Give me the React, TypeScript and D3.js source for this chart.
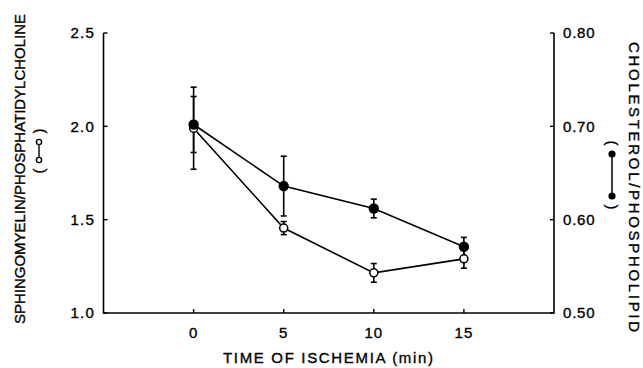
import React from "react";
import * as d3 from "d3";

const times = [0, 5, 10, 15];
const smpc = [1.99, 1.455, 1.215, 1.29];
const smpcErr = [0.22, 0.035, 0.05, 0.05];
const cholPl = [0.702, 0.636, 0.612, 0.571];
const cholPlErr = [0.03, 0.032, 0.01, 0.01];
const xTicks = [0, 5, 10, 15];
const leftTicks = [1.0, 1.5, 2.0, 2.5];
const rightTicks = [0.5, 0.6, 0.7, 0.8];

const W = 643, H = 368;
const L = 103.5, R = 554, T = 33, B = 313;
const font = "'Liberation Sans', Arial, Helvetica, sans-serif";
const txtStroke = { stroke: "#000", strokeWidth: 0.35 };

export default function App() {
  const x = d3.scaleLinear().domain([-5, 20]).range([L, R]);
  const yL = d3.scaleLinear().domain([1.0, 2.5]).range([B, T]);
  const yR = d3.scaleLinear().domain([0.5, 0.8]).range([B, T]);
  const line = d3.line<number>();
  const openPts: [number, number][] = times.map((t, i) => [x(t), yL(smpc[i])]);
  const fillPts: [number, number][] = times.map((t, i) => [x(t), yR(cholPl[i])]);
  const cap = 3;
  const tick = 4;

  return (
    <svg width={W} height={H} style={{ position: "absolute", left: 0, top: 0, background: "#fff" }}
      fontFamily={font}>
      {/* axes */}
      <path d={`M${L},${T}V${B}H${R}V${T}`} fill="none" stroke="#000" strokeWidth={1.6} />
      {leftTicks.map((v) => (
        <g key={"l" + v}>
          <line x1={L} x2={L + tick} y1={yL(v)} y2={yL(v)} stroke="#000" strokeWidth={1.4} />
          <text x={95} y={yL(v)} dy="0.36em" textAnchor="end" fontSize={15} letterSpacing={1.2} {...txtStroke}>
            {v.toFixed(1)}
          </text>
        </g>
      ))}
      {rightTicks.map((v) => (
        <g key={"r" + v}>
          <line x1={R - tick} x2={R} y1={yR(v)} y2={yR(v)} stroke="#000" strokeWidth={1.4} />
          <text x={563} y={yR(v)} dy="0.36em" textAnchor="start" fontSize={15} letterSpacing={0.8} {...txtStroke}>
            {v.toFixed(2)}
          </text>
        </g>
      ))}
      {xTicks.map((v) => (
        <g key={"x" + v}>
          <line x1={x(v)} x2={x(v)} y1={B} y2={B - tick} stroke="#000" strokeWidth={1.4} />
          <text x={x(v)} y={338} textAnchor="middle" fontSize={15} letterSpacing={1} {...txtStroke}>
            {v}
          </text>
        </g>
      ))}
      <text x={328} y={363} textAnchor="middle" fontSize={15} textLength={210} lengthAdjust="spacing" {...txtStroke}>
        TIME OF ISCHEMIA (min)
      </text>

      {/* left title */}
      <g transform="translate(25,169) rotate(-90)">
        <text x={0} y={0} textAnchor="middle" fontSize={15} textLength={310} lengthAdjust="spacing" {...txtStroke}>
          SPHINGOMYELIN/PHOSPHATIDYLCHOLINE
        </text>
      </g>
      <g transform="translate(39,151) rotate(-90)">
        <text x={-20} y={0} dy="0.33em" textAnchor="middle" fontSize={15} {...txtStroke}>(</text>
        <circle cx={-9} cy={0} r={2.6} fill="#fff" stroke="#000" strokeWidth={1.4} />
        <line x1={-6.4} x2={6.4} y1={0} y2={0} stroke="#000" strokeWidth={1.4} />
        <circle cx={9} cy={0} r={2.6} fill="#fff" stroke="#000" strokeWidth={1.4} />
        <text x={20} y={0} dy="0.33em" textAnchor="middle" fontSize={15} {...txtStroke}>)</text>
      </g>

      {/* right title */}
      <g transform="translate(629,187) rotate(90)">
        <text x={0} y={0} textAnchor="middle" fontSize={15} textLength={290} lengthAdjust="spacing" {...txtStroke}>
          CHOLESTEROL/PHOSPHOLIPID
        </text>
      </g>
      <g transform="translate(612,175) rotate(90)">
        <text x={-32} y={0} dy="0.33em" textAnchor="middle" fontSize={15} {...txtStroke}>(</text>
        <circle cx={-21} cy={0} r={3.6} fill="#000" />
        <line x1={-21} x2={21} y1={0} y2={0} stroke="#000" strokeWidth={1.5} />
        <circle cx={21} cy={0} r={3.6} fill="#000" />
        <text x={32} y={0} dy="0.33em" textAnchor="middle" fontSize={15} {...txtStroke}>)</text>
      </g>

      {/* lines */}
      <path d={line(openPts) || ""} fill="none" stroke="#000" strokeWidth={1.6} />
      <path d={line(fillPts) || ""} fill="none" stroke="#000" strokeWidth={1.6} />

      {/* error bars */}
      {times.map((t, i) => {
        const cx = x(t);
        const y1 = yL(smpc[i] + smpcErr[i]);
        const y2 = yL(smpc[i] - smpcErr[i]);
        return (
          <g key={"eo" + i} stroke="#000" strokeWidth={1.6}>
            <line x1={cx} x2={cx} y1={y1} y2={y2} />
            <line x1={cx - cap} x2={cx + cap} y1={y1} y2={y1} />
            <line x1={cx - cap} x2={cx + cap} y1={y2} y2={y2} />
          </g>
        );
      })}
      {times.map((t, i) => {
        const cx = x(t);
        const y1 = yR(cholPl[i] + cholPlErr[i]);
        const y2 = yR(cholPl[i] - cholPlErr[i]);
        return (
          <g key={"ef" + i} stroke="#000" strokeWidth={1.6}>
            <line x1={cx} x2={cx} y1={y1} y2={y2} />
            <line x1={cx - cap} x2={cx + cap} y1={y1} y2={y1} />
            <line x1={cx - cap} x2={cx + cap} y1={y2} y2={y2} />
          </g>
        );
      })}

      {/* markers */}
      {openPts.map(([px, py], i) => (
        <circle key={"o" + i} cx={px} cy={py} r={4} fill="#fff" stroke="#000" strokeWidth={1.5} />
      ))}
      {fillPts.map(([px, py], i) => (
        <circle key={"f" + i} cx={px} cy={py} r={5.2} fill="#000" />
      ))}
    </svg>
  );
}
